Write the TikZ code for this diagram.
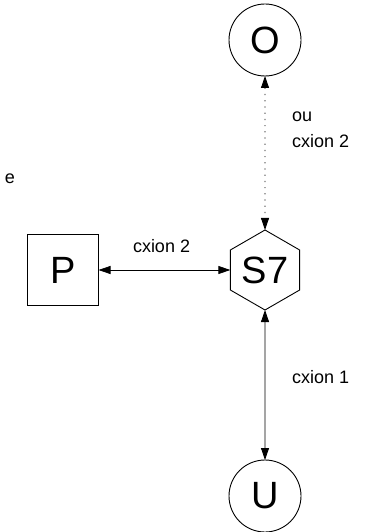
\documentclass[tikz,border=0pt]{standalone}
\usepackage{fontspec}
\setmainfont{Liberation Sans}
\usetikzlibrary{shapes.geometric,arrows.meta}
\begin{document}
\begin{tikzpicture}[x=1pt,y=-1pt,
  every node/.style={inner sep=0pt,outer sep=0pt},
  bignode/.style={draw,line width=0.9pt,font=\fontsize{38}{38}\selectfont},
  roundnode/.style={bignode,circle,minimum size=72pt},
  hexnode/.style={bignode,regular polygon,regular polygon sides=6,regular polygon rotate=30,minimum size=80pt},
  boxnode/.style={bignode,rectangle,minimum size=71pt},
  lbl/.style={anchor=base west,font=\fontsize{18}{26}\selectfont,align=left},
  link/.style={line width=0.8pt,{Triangle[length=12pt,width=8pt]}-{Triangle[length=12pt,width=8pt]}},
  dotlink/.style={link,dash pattern=on 1.2pt off 5pt}]
\useasboundingbox (0,0) rectangle (374,532);
\node[roundnode] (o) at (265,40) {O};
\node[hexnode] (s) at (265,270) {S7};
\node[boxnode] (p) at (63,270) {P};
\node[roundnode] (u) at (265,496) {U};
\draw[dotlink] (o) -- (s);
\draw[link] (p) -- (s);
\draw[link] (s) -- (u);
\node[lbl] (l1) at (292,147) {ou\\cxion 2};
\node[lbl] (l2) at (133,252) {cxion 2};
\node[lbl] (l3) at (292,383) {cxion 1};
\node[lbl] (e) at (5,183) {e};
\end{tikzpicture}
\end{document}
